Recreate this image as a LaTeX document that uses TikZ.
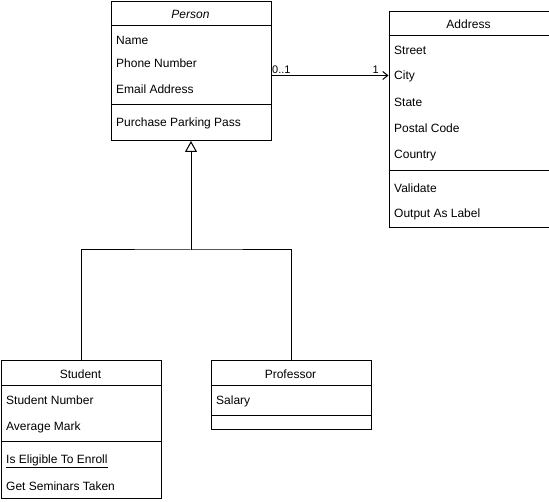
\documentclass[tikz,border=0pt]{standalone}
\usepackage{fontspec}
\setmainfont{Liberation Sans}
\usetikzlibrary{arrows.meta}

\tikzset{
  classbox/.style={draw, line width=1pt, anchor=north west, inner sep=0pt, minimum width=160pt},
  head/.style={anchor=center, inner sep=0pt, text height=8.6pt, text depth=0pt},
  item/.style={anchor=west, inner sep=0pt, text height=8.6pt, text depth=0pt},
  mult/.style={inner sep=0pt, font=\fontsize{11}{13}\selectfont},
  sep/.style={line width=1pt},
}

\begin{document}
\begin{tikzpicture}[x=1pt,y=-1pt,font=\fontsize{12}{14}\selectfont]
\useasboundingbox (0,0) rectangle (549,502);

\node[classbox, minimum height=139pt] (person) at (110.5,1) {};
\node[classbox, minimum height=216pt] (address) at (388.5,11) {};
\node[classbox, minimum height=137.5pt] (student) at (0.5,360.5) {};
\node[classbox, minimum height=69pt] (professor) at (210.5,360.5) {};

\draw[sep] (person.west |- 0,25.5) -- (person.east |- 0,25.5);
\draw[sep] (person.west |- 0,105) -- (person.east |- 0,105);
\draw[sep] (address.west |- 0,36) -- (address.east |- 0,36);
\draw[sep] (address.west |- 0,170.5) -- (address.east |- 0,170.5);
\draw[sep] (student.west |- 0,385.5) -- (student.east |- 0,385.5);
\draw[sep] (student.west |- 0,441.5) -- (student.east |- 0,441.5);
\draw[sep] (professor.west |- 0,385.5) -- (professor.east |- 0,385.5);
\draw[sep] (professor.west |- 0,416) -- (professor.east |- 0,416);

% Person
\node[head] (pname) at (190.5,14) {\itshape Person};
\node[item] (pattrname) at (116,40) {Name};
\node[item] (pphone) at (116,63) {Phone Number};
\node[item] (pemail) at (116,89) {Email Address};
\node[item] (pparking) at (116,122) {Purchase Parking Pass};

% Address
\node[head] (aname) at (468.5,24) {Address};
\node[item] (astreet) at (394,50) {Street};
\node[item] (acity) at (394,75.5) {City};
\node[item] (astate) at (394,102) {State};
\node[item] (apostal) at (394,128) {Postal Code};
\node[item] (acountry) at (394,154) {Country};
\node[item] (avalidate) at (394,188) {Validate};
\node[item] (aoutput) at (394,213) {Output As Label};

% Student
\node[head] (sname) at (80.5,374) {Student};
\node[item] (snumber) at (6,400) {Student Number};
\node[item] (smark) at (6,426) {Average Mark};
\node[item] (senroll) at (6,459) {\underline{Is Eligible To Enroll}};
\node[item] (sseminars) at (6,486) {Get Seminars Taken};

% Professor
\node[head] (prname) at (290.5,374) {Professor};
\node[item] (prsalary) at (216,400) {Salary};

% association
\draw[line width=1pt, -{Straight Barb[length=5pt,width=8pt]}] (person.east |- acity) -- (address.west |- acity);
\node[mult, anchor=base west] (multp) at (272,74) {0..1};
\node[mult, anchor=base east] (multa) at (379,74) {1};

% generalization
\coordinate (fork) at (person.south |- 0,250);
\draw[line width=1pt] (student.north) |- (fork) -| (professor.north);
\draw[line width=1pt, -{Triangle[open,length=11pt,width=12pt]}] (fork) -- (person.south);
\end{tikzpicture}
\end{document}
